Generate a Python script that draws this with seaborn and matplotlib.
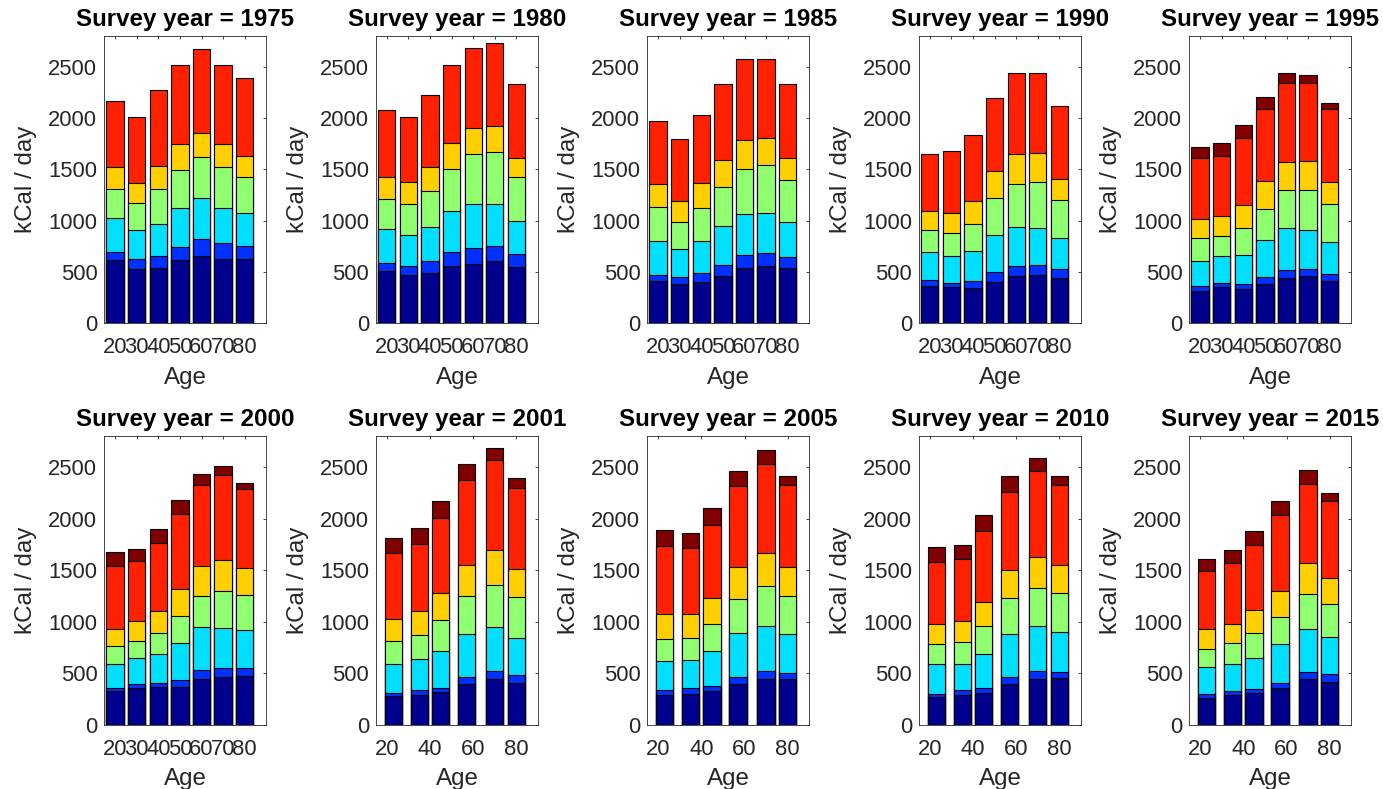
import matplotlib
matplotlib.use("Agg")
import matplotlib.pyplot as plt
import numpy as np
import seaborn as sns

# Age positions of the bars
ages_decades = [20, 30, 40, 50, 60, 70, 80]
ages_groups = [23, 35, 45, 57, 70, 80]

survey_years = [1975, 1980, 1985, 1990, 1995, 2000, 2001, 2005, 2010, 2015]

# Running totals (kCal/day) at the top of each stacked layer, bottom layer first
levels_1975 = [
    [617, 532, 542, 617, 656, 623, 627],
    [692, 627, 653, 747, 821, 779, 756],
    [1029, 909, 968, 1123, 1221, 1120, 1071],
    [1305, 1169, 1305, 1494, 1617, 1519, 1429],
    [1526, 1370, 1532, 1744, 1857, 1744, 1627],
    [2166, 2006, 2269, 2510, 2672, 2516, 2393],
]
levels_1980 = [
    [510, 468, 487, 562, 578, 610, 549],
    [591, 558, 604, 695, 737, 756, 672],
    [916, 860, 935, 1091, 1166, 1166, 1000],
    [1208, 1162, 1292, 1500, 1646, 1672, 1422],
    [1429, 1380, 1519, 1760, 1899, 1925, 1614],
    [2078, 2006, 2224, 2516, 2682, 2727, 2328],
]
levels_1985 = [
    [412, 383, 403, 458, 536, 558, 536],
    [471, 448, 487, 568, 669, 682, 649],
    [805, 727, 805, 945, 1068, 1078, 987],
    [1133, 990, 1120, 1331, 1506, 1539, 1399],
    [1354, 1195, 1364, 1594, 1782, 1802, 1614],
    [1971, 1792, 2026, 2328, 2578, 2571, 2328],
]
levels_1990 = [
    [364, 351, 341, 399, 461, 468, 438],
    [422, 396, 412, 497, 562, 568, 532],
    [692, 653, 705, 860, 942, 932, 828],
    [912, 883, 968, 1218, 1357, 1380, 1201],
    [1097, 1078, 1195, 1487, 1646, 1662, 1403],
    [1646, 1679, 1834, 2192, 2435, 2435, 2117],
]
levels_1995 = [
    [315, 351, 331, 386, 438, 458, 412],
    [364, 393, 383, 448, 519, 532, 477],
    [610, 656, 662, 812, 925, 909, 789],
    [831, 851, 925, 1114, 1302, 1302, 1166],
    [1016, 1049, 1153, 1386, 1575, 1584, 1373],
    [1607, 1633, 1802, 2088, 2338, 2338, 2091],
    [1721, 1753, 1932, 2201, 2435, 2416, 2143],
]
levels_2000 = [
    [329, 361, 365, 371, 445, 468, 474],
    [355, 394, 403, 435, 532, 552, 552],
    [587, 645, 690, 794, 948, 935, 916],
    [761, 813, 890, 1052, 1252, 1300, 1258],
    [926, 1006, 1103, 1313, 1539, 1594, 1519],
    [1539, 1590, 1765, 2048, 2329, 2426, 2284],
    [1674, 1703, 1897, 2177, 2435, 2510, 2348],
]
levels_2001 = [
    [281, 294, 316, 394, 442, 403],
    [306, 339, 361, 468, 519, 481],
    [594, 635, 716, 884, 945, 839],
    [810, 874, 1019, 1245, 1361, 1239],
    [1029, 1100, 1277, 1555, 1694, 1513],
    [1668, 1755, 2006, 2377, 2565, 2300],
    [1813, 1906, 2168, 2526, 2684, 2394],
]
levels_2005 = [
    [290, 303, 329, 394, 445, 442],
    [335, 355, 377, 468, 526, 500],
    [623, 629, 716, 894, 955, 884],
    [829, 845, 974, 1223, 1345, 1245],
    [1077, 1077, 1235, 1535, 1668, 1526],
    [1732, 1713, 1939, 2316, 2526, 2329],
    [1894, 1865, 2100, 2461, 2661, 2413],
]
levels_2010 = [
    [271, 294, 313, 394, 445, 458],
    [303, 339, 355, 465, 519, 510],
    [594, 594, 684, 884, 958, 903],
    [781, 800, 955, 1226, 1332, 1277],
    [974, 1006, 1187, 1500, 1629, 1555],
    [1581, 1613, 1881, 2258, 2461, 2326],
    [1726, 1748, 2032, 2416, 2590, 2416],
]
levels_2015 = [
    [265, 290, 306, 355, 448, 419],
    [297, 332, 348, 406, 510, 490],
    [558, 587, 645, 781, 926, 848],
    [739, 790, 894, 1045, 1268, 1168],
    [926, 974, 1113, 1300, 1571, 1426],
    [1494, 1571, 1748, 2039, 2339, 2168],
    [1613, 1694, 1884, 2174, 2474, 2248],
]

panel_levels = {
    1975: levels_1975, 1980: levels_1980, 1985: levels_1985, 1990: levels_1990,
    1995: levels_1995, 2000: levels_2000, 2001: levels_2001, 2005: levels_2005,
    2010: levels_2010, 2015: levels_2015,
}

# Jet-style layer colours, bottom layer first
layer_colors = [
    (0.0, 0.0, 0.5625),
    (0.0, 0.1875, 1.0),
    (0.0, 0.875, 1.0),
    (0.5625, 1.0, 0.4375),
    (1.0, 0.8125, 0.0),
    (1.0, 0.125, 0.0),
    (0.5, 0.0, 0.0),
]

sns.set_theme(style="white")
plt.rcParams["font.family"] = ["Liberation Sans", "DejaVu Sans"]

W, H = 1383, 789
fig = plt.figure(figsize=(W / 100, H / 100), dpi=100)

col_left = [104.3, 376.0, 647.3, 919.0, 1189.3]
ax_w = 162.0
row_box = [(35.7, 323.3), (436.0, 725.0)]  # (top, bottom) in pixels

text_gray = (0.15, 0.15, 0.15)

for i, year in enumerate(survey_years):
    row, col = divmod(i, 5)
    top_px, bot_px = row_box[row]
    ax = fig.add_axes([col_left[col] / W, (H - bot_px) / H, ax_w / W, (bot_px - top_px) / H])

    levels = np.array(panel_levels[year], dtype=float)
    xs = ages_decades if levels.shape[1] == 7 else ages_groups

    # Draw running totals from the top layer down so each layer covers the next
    for k in range(levels.shape[0] - 1, -1, -1):
        sns.barplot(x=xs, y=levels[k], native_scale=True, orient="x", width=0.8,
                    color=layer_colors[k], saturation=1, edgecolor="black",
                    linewidth=0.8, errorbar=None, ax=ax)

    ax.set_xlim(15, 90)
    ax.set_ylim(0, 2800)
    ax.set_yticks([0, 500, 1000, 1500, 2000, 2500])
    if len(xs) == 7:
        ax.set_xticks(ages_decades)
        ax.set_xticklabels([str(a) for a in ages_decades])
    else:
        ax.set_xticks([20, 40, 60, 80])
        ax.set_xticklabels(["20", "40", "60", "80"])

    for side in ["top", "right", "bottom", "left"]:
        ax.spines[side].set_visible(True)
        ax.spines[side].set_color(text_gray)
        ax.spines[side].set_linewidth(0.6)

    ax.tick_params(axis="both", direction="in", top=True, right=True, length=2.5,
                   width=0.6, color=text_gray, labelcolor=text_gray, labelsize=15.8)
    ax.tick_params(axis="x", pad=10)
    ax.tick_params(axis="y", pad=5)

    ax.set_xlabel("Age", fontsize=17.4, color=text_gray, labelpad=6)
    ax.set_ylabel("kCal / day", fontsize=17.4, color=text_gray, labelpad=8)
    ax.set_title(f"Survey year = {year}", fontsize=17.4, fontweight="bold", color="black", pad=7)

fig.savefig("out.png", dpi=100)
